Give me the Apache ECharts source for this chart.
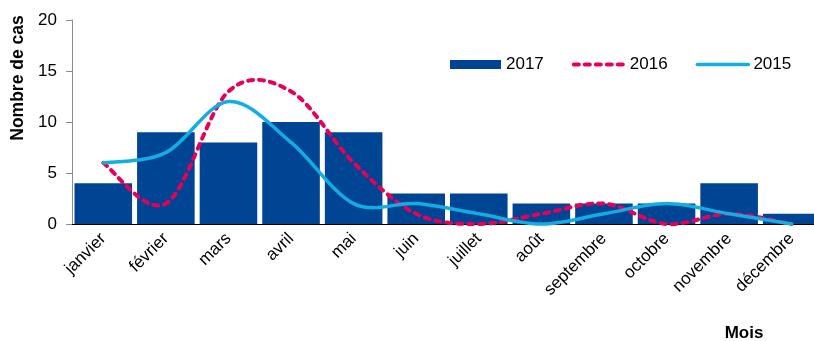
<!DOCTYPE html>
<html>
<head>
<meta charset="utf-8">
<script src="https://cdn.jsdelivr.net/npm/echarts@6/dist/echarts.min.js"></script>
<style>
  html, body { margin: 0; padding: 0; background: #fff; }
  #chart { width: 814px; height: 341px; }
</style>
</head>
<body>
<div id="chart"></div>
<script>
var mois = ['janvier', 'février', 'mars', 'avril', 'mai', 'juin', 'juillet', 'août', 'septembre', 'octobre', 'novembre', 'décembre'];
var cas2017 = [4, 9, 8, 10, 9, 3, 3, 2, 2, 2, 4, 1];
var cas2016 = [6, 2, 13, 13, 6, 1, 0, 1, 2, 0, 1, 0];
var cas2015 = [6, 7, 12, 8, 2, 2, 1, 0, 1, 2, 1, 0];

var FONT = '"Liberation Sans", Arial, sans-serif';
var BLEU = '#004494';
var ROUGE = '#E6005A';
var CYAN = '#12ADE2';

// courbe lissée (type Excel) passant par les points, via api.coord
function courbe(name, values, color, width, dash) {
  return {
    type: 'custom',
    name: name,
    z: 3,
    data: values.map(function (v, i) { return [i, v]; }),
    renderItem: function (params, api) {
      if (params.dataIndex !== 0) return null;
      var p = values.map(function (v, i) { return api.coord([i, v]); });
      var n = p.length;
      function tan(i) {
        var a = p[Math.max(i - 1, 0)], b = p[Math.min(i + 1, n - 1)];
        return [(b[0] - a[0]) / 2, (b[1] - a[1]) / 2];
      }
      var d = 'M' + p[0][0] + ' ' + p[0][1];
      for (var i = 0; i < n - 1; i++) {
        var t0 = tan(i), t1 = tan(i + 1);
        d += ' C' + (p[i][0] + t0[0] / 3) + ' ' + (p[i][1] + t0[1] / 3) + ' ' +
          (p[i + 1][0] - t1[0] / 3) + ' ' + (p[i + 1][1] - t1[1] / 3) + ' ' +
          p[i + 1][0] + ' ' + p[i + 1][1];
      }
      return {
        type: 'path',
        shape: { pathData: d },
        style: { fill: 'none', stroke: color, lineWidth: width, lineDash: dash, lineCap: 'round' }
      };
    }
  };
}

var myChart = echarts.init(document.getElementById('chart'));
var option = {
  animation: false,
  textStyle: { fontFamily: FONT },
  grid: { left: 72, width: 751, top: 20, bottom: 117, containLabel: false, outerBoundsMode: 'none' },
  legend: {
    left: 445,
    top: 51,
    itemWidth: 51,
    itemHeight: 9,
    itemGap: 28,
    textStyle: { fontSize: 17, color: '#000', fontFamily: FONT },
    data: [
      { name: '2017', icon: 'rect' },
      { name: '2016', itemStyle: { opacity: 0 }, lineStyle: { width: 4, type: [5, 6], cap: 'round' } },
      { name: '2015', itemStyle: { opacity: 0 }, lineStyle: { width: 3.5, cap: 'round' } }
    ]
  },
  xAxis: {
    type: 'category',
    data: mois,
    axisLine: { lineStyle: { color: '#000', width: 1 } },
    axisTick: { length: 5, lineStyle: { color: '#808080' } },
    axisLabel: { rotate: 45, interval: 0, fontSize: 17, color: '#000', margin: 12, fontFamily: FONT }
  },
  yAxis: {
    type: 'value',
    min: 0,
    max: 20,
    interval: 5,
    splitLine: { show: false },
    axisLine: { show: true, lineStyle: { color: '#8c8c8c' } },
    axisTick: { show: true, length: 6, lineStyle: { color: '#8c8c8c' } },
    axisLabel: { fontSize: 17, color: '#000', margin: 15, fontFamily: FONT }
  },
  graphic: [
    {
      type: 'text', x: 18, y: 78, rotation: Math.PI / 2,
      style: {
        text: 'Nombre de cas', fill: '#000', fontSize: 17.5, fontWeight: 'bold', fontFamily: FONT,
        align: 'center', verticalAlign: 'middle', textAlign: 'center', textVerticalAlign: 'middle'
      }
    },
    {
      type: 'text', x: 744, y: 333,
      style: {
        text: 'Mois', fill: '#000', fontSize: 17, fontWeight: 'bold', fontFamily: FONT,
        align: 'center', verticalAlign: 'middle', textAlign: 'center', textVerticalAlign: 'middle'
      }
    }
  ],
  series: [
    {
      name: '2017',
      type: 'bar',
      barCategoryGap: '8%',
      itemStyle: { color: BLEU },
      data: cas2017
    },
    // séries vides pour les icônes de légende
    { name: '2016', type: 'line', data: [], symbol: 'none', itemStyle: { color: ROUGE },
      lineStyle: { color: ROUGE, width: 4, type: [5, 6], cap: 'round' } },
    { name: '2015', type: 'line', data: [], symbol: 'none', itemStyle: { color: CYAN },
      lineStyle: { color: CYAN, width: 3.5, cap: 'round' } },
    courbe('2016', cas2016, ROUGE, 4, [5, 6]),
    courbe('2015', cas2015, CYAN, 3.5, null)
  ]
};
myChart.setOption(option);
</script>
</body>
</html>
